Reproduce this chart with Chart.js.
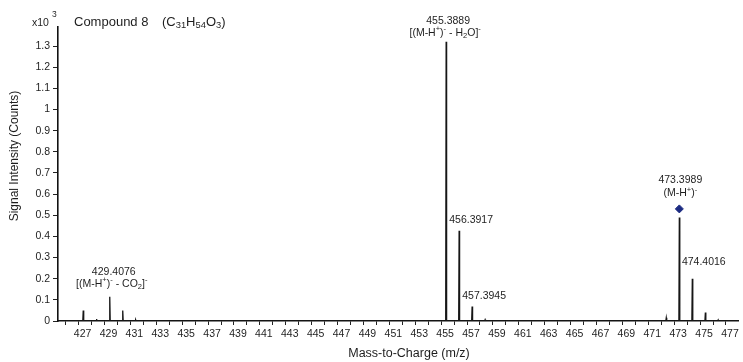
<!DOCTYPE html>
<html>
<head>
<meta charset="utf-8">
<script src="https://cdn.jsdelivr.net/npm/chart.js@4.4.0/dist/chart.umd.min.js"></script>
<style>
html,body{margin:0;padding:0;background:#fff;}
#wrap{width:743px;height:362px;position:relative;}
</style>
</head>
<body>
<div id="wrap"><canvas id="c" width="743" height="362"></canvas></div>
<script>
// ---- data ----
const peakMz     = [427.36, 428.38, 429.4076, 430.41, 431.41, 455.3889, 456.3917, 457.3945, 458.40, 472.39, 473.3989, 474.4016, 475.41, 476.40];
const peakHeight = [0.050,  0.010,  0.115,    0.050,  0.005,  1.320,    0.427,    0.068,    0.006,  0.015,  0.489,    0.200,    0.040,  0.005];
const markerMz    = [473.3989];
const markerLevel = [0.53];
const xTickLabels = ['427','429','431','433','435','437','439','441','443','445','447','449','451','453','455','457','459','461','463','465','467','469','471','473','475','477'];
const yTickLabels = ['0','0.1','0.2','0.3','0.4','0.5','0.6','0.7','0.8','0.9','1','1.1','1.2','1.3'];
const xRange = [425.41, 477.93];
const yRange = [0, 1.39];

// ---- style ----
const FONT = "'Liberation Sans', Arial, sans-serif";
const TXT = '#1e1e1e';
const peakHalfWidth = 0.035;

// profile line built from the peak list
const profile = [{x: xRange[0], y: 0}];
peakMz.forEach((m, i) => {
  profile.push({x: m - peakHalfWidth, y: 0}, {x: m, y: peakHeight[i]}, {x: m + peakHalfWidth, y: 0});
});
profile.push({x: xRange[1], y: 0});

const markers = markerMz.map((m, i) => ({x: m, y: markerLevel[i]}));

// annotation texts (positions are offsets in px from the peak apex)
const peakLabels = [
  {mz: 455.3889, lines: [
    {parts: [['455.3889']], dx: 2, dy: -20.5},
    {parts: [['[(M-H'], ['+','sup'], [')'], ['-','sup'], [' - H'], ['2','sub'], ['O]'], ['-','sup']], dx: -1, dy: -9}
  ]},
  {mz: 429.4076, lines: [
    {parts: [['429.4076']], dx: 4, dy: -25},
    {parts: [['[(M-H'], ['+','sup'], [')'], ['-','sup'], [' - CO'], ['2','sub'], [']'], ['-','sup']], dx: 2, dy: -12.5}
  ]},
  {mz: 473.3989, lines: [
    {parts: [['473.3989']], dx: 1, dy: -37},
    {parts: [['(M-H'], ['+','sup'], [')'], ['-','sup']], dx: 1, dy: -24}
  ]},
  {mz: 456.3917, lines: [{parts: [['456.3917']], dx: 12, dy: -10.5}]},
  {mz: 457.3945, lines: [{parts: [['457.3945']], dx: 12, dy: -10.5}]},
  {mz: 474.4016, lines: [{parts: [['474.4016']], dx: 11.5, dy: -17}]}
];

function drawRich(ctx, parts, x, y, size, align) {
  const small = size * 0.72;
  const segs = parts.map(p => {
    const mode = p[1] || 'n';
    const fs = mode === 'n' ? size : small;
    ctx.font = fs + 'px ' + FONT;
    return {t: p[0], mode, fs, w: ctx.measureText(p[0]).width};
  });
  const total = segs.reduce((a, s) => a + s.w, 0);
  let cx = align === 'center' ? x - total / 2 : (align === 'right' ? x - total : x);
  ctx.textAlign = 'left';
  ctx.textBaseline = 'middle';
  segs.forEach(s => {
    ctx.font = s.fs + 'px ' + FONT;
    let dy = 0;
    if (s.mode === 'sup') dy = -size * 0.36;
    if (s.mode === 'sub') dy = size * 0.3;
    ctx.fillText(s.t, cx, y + dy);
    cx += s.w;
  });
}

const textPlugin = {
  id: 'texts',
  afterDraw(chart) {
    const ctx = chart.ctx, xs = chart.scales.x, ys = chart.scales.y;
    ctx.save();
    ctx.fillStyle = TXT;
    // peak annotations
    peakLabels.forEach(lab => {
      const i = peakMz.indexOf(lab.mz);
      const px = xs.getPixelForValue(lab.mz);
      const py = ys.getPixelForValue(peakHeight[i]);
      lab.lines.forEach(l => drawRich(ctx, l.parts, px + l.dx, py + l.dy, 10.5, 'center'));
    });
    // title
    drawRich(ctx, [['Compound 8']], 74, 22, 13, 'left');
    drawRich(ctx, [['(C'], ['31','sub'], ['H'], ['54','sub'], ['O'], ['3','sub'], [')']], 162, 22, 13, 'left');
    // exponent
    ctx.font = '10.5px ' + FONT; ctx.textAlign = 'left'; ctx.textBaseline = 'middle';
    ctx.fillText('x10', 32, 23);
    ctx.font = '8.5px ' + FONT;
    ctx.fillText('3', 52, 15);
    // axis titles
    ctx.font = '12.5px ' + FONT; ctx.textAlign = 'center'; ctx.textBaseline = 'middle';
    ctx.fillText('Mass-to-Charge (m/z)', 409, 354);
    ctx.save();
    ctx.translate(15, 156);
    ctx.rotate(-Math.PI / 2);
    ctx.font = '12px ' + FONT;
    ctx.fillText('Signal Intensity (Counts)', 0, 0);
    ctx.restore();
    ctx.restore();
  }
};

Chart.defaults.font.family = FONT;
Chart.defaults.color = TXT;

new Chart(document.getElementById('c'), {
  type: 'line',
  data: {
    datasets: [
      {data: profile, borderColor: '#161616', borderWidth: 1.3, pointRadius: 0, tension: 0, fill: false},
      {type: 'scatter', data: markers, pointStyle: 'rectRot', pointRadius: 4, backgroundColor: '#1c2b82', borderColor: '#1c2b82', showLine: false}
    ]
  },
  options: {
    responsive: false,
    animation: false,
    devicePixelRatio: 1,
    layout: {padding: {left: 0, right: 1, top: 27, bottom: 0}},
    plugins: {legend: {display: false}, tooltip: {enabled: false}, title: {display: false}},
    scales: {
      x: {
        type: 'linear', position: 'bottom', min: xRange[0], max: xRange[1],
        grid: {drawOnChartArea: false, drawTicks: true, tickLength: 4, color: '#222', lineWidth: 1},
        border: {display: true, color: '#111', width: 1.4},
        afterBuildTicks(scale) {
          const t = [];
          for (let v = Math.ceil(xRange[0]); v <= Math.floor(xRange[1]); v++) t.push({value: v});
          scale.ticks = t;
        },
        ticks: {
          autoSkip: false, maxRotation: 0, minRotation: 0, padding: 3, labelOffset: 4,
          font: {size: 10.5}, color: TXT,
          callback: v => xTickLabels.includes(String(v)) ? String(v) : ''
        },
        afterFit(scale) { scale.height = 41; }
      },
      y: {
        type: 'linear', min: yRange[0], max: yRange[1],
        grid: {drawOnChartArea: false, drawTicks: true, tickLength: 5, color: '#222', lineWidth: 1},
        border: {display: true, color: '#111', width: 1.6},
        afterBuildTicks(scale) {
          scale.ticks = yTickLabels.map(s => ({value: parseFloat(s)}));
        },
        ticks: {
          padding: 3, font: {size: 10.5}, color: TXT,
          callback: (v, i) => yTickLabels[i]
        },
        afterFit(scale) { scale.width = 58; }
      }
    }
  },
  plugins: [textPlugin]
});
</script>
</body>
</html>
